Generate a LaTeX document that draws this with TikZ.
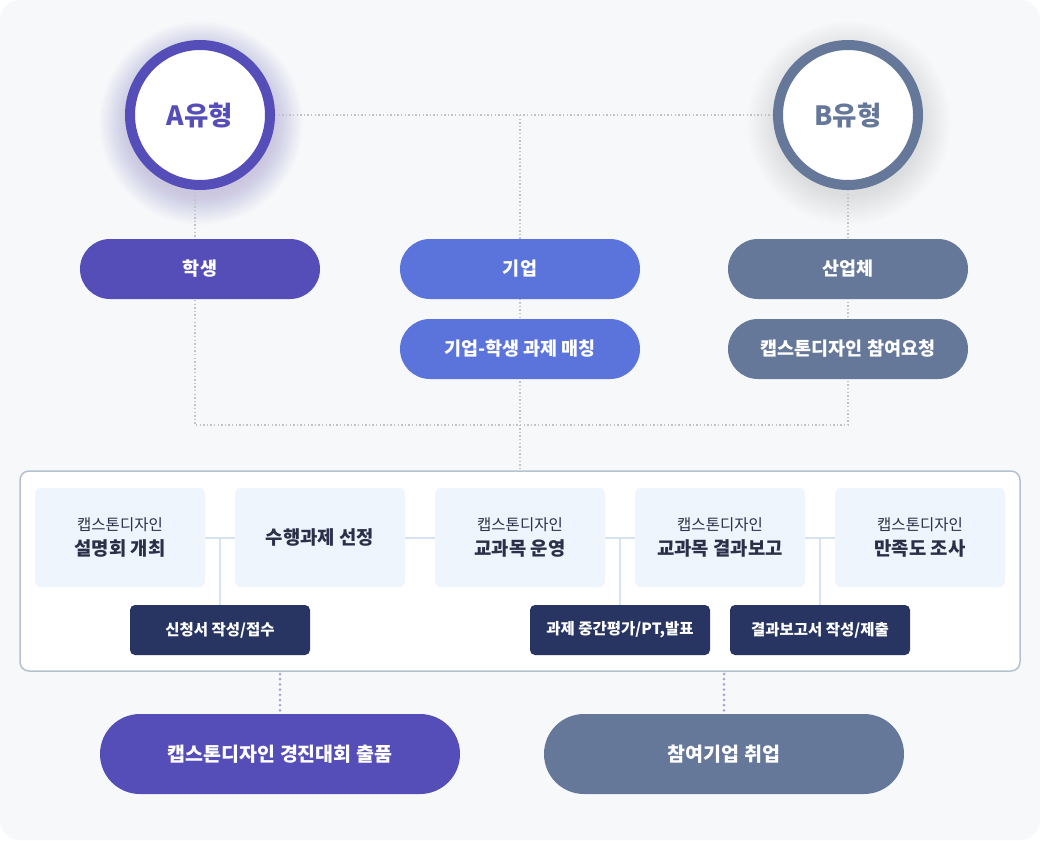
\documentclass[tikz,border=0pt]{standalone}
\usepackage{fontspec}
\setmainfont{Noto Sans CJK KR}
\usetikzlibrary{backgrounds}
\definecolor{bgc}{HTML}{F7F8FA}
\definecolor{purp}{HTML}{554DB8}
\definecolor{blu}{HTML}{5B74DC}
\definecolor{slate}{HTML}{65789A}
\definecolor{navy}{HTML}{283562}
\definecolor{txt}{HTML}{2B2F48}
\definecolor{panelb}{HTML}{B6C1D0}
\definecolor{boxf}{HTML}{EEF5FD}
\definecolor{conn}{HTML}{D5E3F4}
\definecolor{dotg}{HTML}{C2C2C8}
\definecolor{dotp}{HTML}{A9A5D8}
\definecolor{glowb}{HTML}{7F8AA0}
\tikzset{
  ring/.style={circle, draw=#1, line width=10pt, fill=white, minimum size=140pt, inner sep=0pt, text=#1, font=\bfseries\fontsize{26.5}{30}\selectfont},
  pill/.style={fill=#1, rounded corners=30pt, minimum width=240pt, minimum height=60pt, text=white, inner sep=0pt, font=\bfseries\fontsize{18.5}{22}\selectfont},
  bigpill/.style={fill=#1, rounded corners=40pt, minimum width=360pt, minimum height=80pt, text=white, inner sep=0pt, font=\bfseries\fontsize{19.5}{23}\selectfont},
  stepbox/.style={fill=boxf, rounded corners=6pt, minimum width=170pt, minimum height=99pt, inner sep=0pt, text=txt, align=center, font=\fontsize{16}{25}\selectfont},
  darkbox/.style={fill=navy, rounded corners=5pt, minimum width=180pt, minimum height=50pt, inner sep=0pt, text=white, font=\bfseries\fontsize{15.5}{18}\selectfont},
  dotline/.style={draw=dotg, line width=1.4pt, dash pattern=on 1.4pt off 2.2pt},
  dotline2/.style={draw=dotp, line width=3pt, dash pattern=on 0pt off 5.2pt, line cap=round},
  connline/.style={draw=conn, line width=2pt},
}
\newcommand{\smallt}[1]{{\fontsize{15.5}{25}\selectfont #1}}
\newcommand{\maint}[1]{{\bfseries\fontsize{18.8}{25}\selectfont #1}}
\begin{document}
\begin{tikzpicture}[x=1pt,y=-1pt]
\useasboundingbox (0,0) rectangle (1040,840);

% circles
\node[ring=purp] (A) at (200,115) {A유형};
\node[ring=slate] (B) at (848,115) {B유형};

% top pills
\node[pill=purp] (stu) at (200,269) {학생};
\node[pill=blu] (com) at (520,269) {기업};
\node[pill=slate] (ind) at (848,269) {산업체};
\node[pill=blu] (match) at (520,349) {기업-학생 과제 매칭};
\node[pill=slate] (req) at (848,349) {캡스톤디자인 참여요청};

% panel
\node[draw=panelb, line width=1.5pt, fill=white, rounded corners=9pt, minimum width=1000pt, minimum height=200pt, inner sep=0pt] (panel) at (520,571) {};

\node[stepbox] (s1) at (120,537.5) {\smallt{캡스톤디자인}\\\maint{설명회 개최}};
\node[stepbox] (s2) at (320,537.5) {\maint{수행과제 선정}};
\node[stepbox] (s3) at (520,537.5) {\smallt{캡스톤디자인}\\\maint{교과목 운영}};
\node[stepbox] (s4) at (720,537.5) {\smallt{캡스톤디자인}\\\maint{교과목 결과보고}};
\node[stepbox] (s5) at (920,537.5) {\smallt{캡스톤디자인}\\\maint{만족도 조사}};

\node[darkbox] (d1) at (220,630) {신청서 작성/접수};
\node[darkbox] (d2) at (620,630) {과제 중간평가/PT,발표};
\node[darkbox] (d3) at (820,630) {결과보고서 작성/제출};

% bottom pills
\node[bigpill=purp] (contest) at (280,754) {캡스톤디자인 경진대회 출품};
\node[bigpill=slate] (job) at (724,754) {참여기업 취업};

\coordinate (top) at (520,115);
\coordinate (busL) at (195,425);
\coordinate (busR) at (848,425);
\coordinate (aS) at (195,192);
\coordinate (j1) at (220,537.5);
\coordinate (j2) at (620,537.5);
\coordinate (j3) at (820,537.5);
\coordinate (p1) at (280,674);
\coordinate (p2) at (724,674);

\begin{pgfonlayer}{background}
  \fill[white] (0,0) rectangle (1040,840);
  \fill[bgc, rounded corners=20pt] (0,0) rectangle (1040,840);
  \foreach \r in {0,1,...,26} {
    \fill[purp, opacity=0.009] (201,123) circle ({72+\r*1.15});
    \fill[glowb, opacity=0.006] (849,123) circle ({72+\r*1.15});
  }
  \path[dotline] (A.east) -- (B.west);
  \path[dotline] (top) -- (panel.north);
  \path[dotline] (aS) -- (busL) -- (busR) -- (B.south);
\end{pgfonlayer}
\path[connline] (s1.east) -- (s2.west);
\path[connline] (s2.east) -- (s3.west);
\path[connline] (s3.east) -- (s4.west);
\path[connline] (s4.east) -- (s5.west);
\path[connline] (j1) -- (d1.north);
\path[connline] (j2) -- (d2.north);
\path[connline] (j3) -- (d3.north);

\path[dotline2] (p1) -- (contest.north);
\path[dotline2] (p2) -- (job.north);
\end{tikzpicture}
\end{document}
